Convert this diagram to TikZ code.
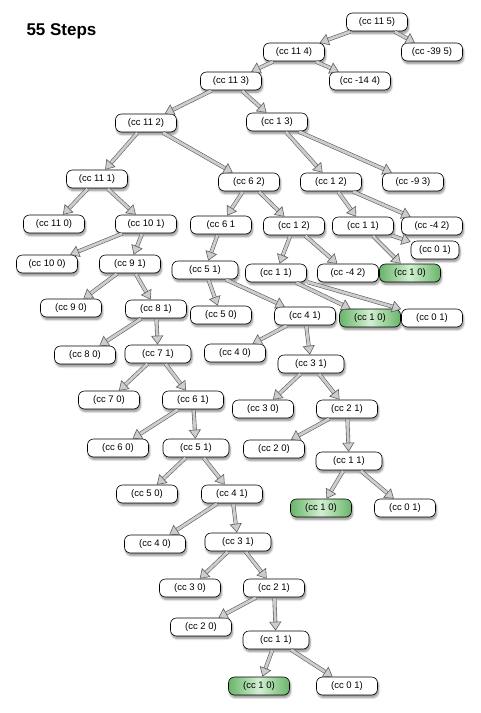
\documentclass[tikz,border=0pt]{standalone}
\usepackage{fontspec}
\setmainfont{Liberation Sans}
\usetikzlibrary{arrows.meta, shadows.blur, positioning}
\definecolor{arrowfill}{RGB}{205,205,205}
\definecolor{arrowline}{RGB}{95,95,95}
\definecolor{leafgreen}{RGB}{105,180,105}
\definecolor{leaflight}{RGB}{210,240,210}
\tikzset{
x=1pt, y=-1pt, % one unit is one pixel of the sketch, y grows downward
call/.style={draw=black, line width=0.6pt, fill=white, rounded corners=6pt, minimum width=61pt, minimum height=18pt, inner sep=0pt, font=\fontsize{9.5}{11}\selectfont, blur shadow={shadow xshift=1pt, shadow yshift=-2.5pt, shadow blur steps=6, shadow blur radius=2pt, shadow opacity=45}}, % one call of cc
wide/.style={minimum width=66pt}, % some boxes are a little wider
leaf/.style={call, left color=leafgreen, right color=leafgreen, middle color=leaflight}, % calls that count one way
fat/.style={draw=arrowline, line width=0.6pt, double=arrowfill, double distance=2.8pt, -{Triangle[length=9pt, width=12pt, fill=arrowfill]}, shorten <=1pt}, % hollow grey arrows
every edge/.style={fat}, % every call arrow is fat
}
\begin{document}
\begin{tikzpicture}
\useasboundingbox (0,0) rectangle (480,713);
\node[anchor=base west, font=\bfseries\fontsize{17}{20}\selectfont] (title) at (23,35) {55 Steps};
% top of the tree
\node[call] (s1) at (377,22) {(cc 11 5)};
\node[call] (s2) at (294,52) {(cc 11 4)};
\node[call] (s3) at (432,52) {(cc -39 5)};
\node[call] (s4) at (231,81) {(cc 11 3)};
\node[call] (s5) at (360,81) {(cc -14 4)};
\node[call] (s6) at (146,123) {(cc 11 2)};
\node[call] (s7) at (277,122) {(cc 1 3)};
\node[call] (s8) at (97,179) {(cc 11 1)};
\node[call] (s9) at (249,182) {(cc 6 2)};
\node[call] (s10) at (331,182) {(cc 1 2)};
\node[call] (s11) at (413,182) {(cc -9 3)};
\node[call] (s12) at (54,224) {(cc 11 0)};
\node[call] (s13) at (146,224) {(cc 10 1)};
\node[call] (s14) at (221,225) {(cc 6 1};
\node[call] (s15) at (294,226) {(cc 1 2)};
\node[call] (s16) at (363,226) {(cc 1 1)};
\node[call] (s17) at (432,226) {(cc -4 2)};
\node[call, minimum width=48pt] (s18) at (435,250) {(cc 0 1)};
\node[call] (s19) at (47,264) {(cc 10 0)};
\node[call] (s20) at (130,264) {(cc 9 1)};
\node[call, wide] (s21) at (205,270) {(cc 5 1)};
\node[call] (s22) at (276,273) {(cc 1 1)};
\node[call] (s23) at (348,273) {(cc -4 2)};
\node[leaf] (s24) at (410,273) {(cc 1 0)};
\node[call] (s25) at (71,308) {(cc 9 0)};
\node[call] (s26) at (156,309) {(cc 8 1)};
\node[call] (s27) at (221,315) {(cc 5 0)};
\node[call] (s28) at (305,316) {(cc 4 1)};
\node[leaf] (s29) at (370,318) {(cc 1 0)};
\node[call] (s30) at (432,318) {(cc 0 1)};
% middle
\node[call] (s31) at (85,355) {(cc 8 0)};
\node[call, wide] (s32) at (158,354) {(cc 7 1)};
\node[call] (s33) at (235,353) {(cc 4 0)};
\node[call, wide] (s34) at (311,364) {(cc 3 1)};
\node[call] (s35) at (109,400) {(cc 7 0)};
\node[call] (s36) at (193,400) {(cc 6 1)};
\node[call] (s37) at (263,409) {(cc 3 0)};
\node[call] (s38) at (347,409) {(cc 2 1)};
\node[call] (s39) at (118,448) {(cc 6 0)};
\node[call, wide] (s40) at (196,448) {(cc 5 1)};
\node[call] (s41) at (274,449) {(cc 2 0)};
\node[call, wide] (s42) at (349,461) {(cc 1 1)};
\node[call] (s43) at (147,494) {(cc 5 0)};
\node[call] (s44) at (232,494) {(cc 4 1)};
\node[leaf] (s45) at (321,508) {(cc 1 0)};
\node[call] (s46) at (405,508) {(cc 0 1)};
% bottom
\node[call] (s47) at (155,544) {(cc 4 0)};
\node[call, wide] (s48) at (238,542) {(cc 3 1)};
\node[call] (s49) at (190,588) {(cc 3 0)};
\node[call] (s50) at (274,588) {(cc 2 1)};
\node[call] (s51) at (201,627) {(cc 2 0)};
\node[call, wide] (s52) at (276,640) {(cc 1 1)};
\node[leaf] (s53) at (259,686) {(cc 1 0)};
\node[call] (s54) at (347,686) {(cc 0 1)};
\path
    (s1) edge (s2)  (s1) edge (s3)
    (s2) edge (s4)  (s2) edge (s5)
    (s4) edge (s6)  (s4) edge (s7)
    (s6) edge (s8)  (s6) edge (s9)
    (s7) edge (s10) (s7) edge (s11)
    (s8) edge (s12) (s8) edge (s13)
    (s9) edge (s14) (s9) edge (s15)
    (s10) edge (s16) (s10) edge (s17)
    (s16) edge (s24) (s16) edge (s18)
    (s13) edge (s19) (s13) edge (s20)
    (s14) edge (s21)
    (s15) edge (s22) (s15) edge (s23)
    (s22) edge (s29) (s22) edge (s30)
    (s20) edge (s25) (s20) edge (s26)
    (s21) edge (s27) (s21) edge (s28)
    (s28) edge (s33) (s28) edge (s34)
    (s26) edge (s31) (s26) edge (s32)
    (s34) edge (s37) (s34) edge (s38)
    (s32) edge (s35) (s32) edge (s36)
    (s38) edge (s41) (s38) edge (s42)
    (s36) edge (s39) (s36) edge (s40)
    (s42) edge (s45) (s42) edge (s46)
    (s40) edge (s43) (s40) edge (s44)
    (s44) edge (s47) (s44) edge (s48)
    (s48) edge (s49) (s48) edge (s50)
    (s50) edge (s51) (s50) edge (s52)
    (s52) edge (s53) (s52) edge (s54)
    ;
\end{tikzpicture}
\end{document}
